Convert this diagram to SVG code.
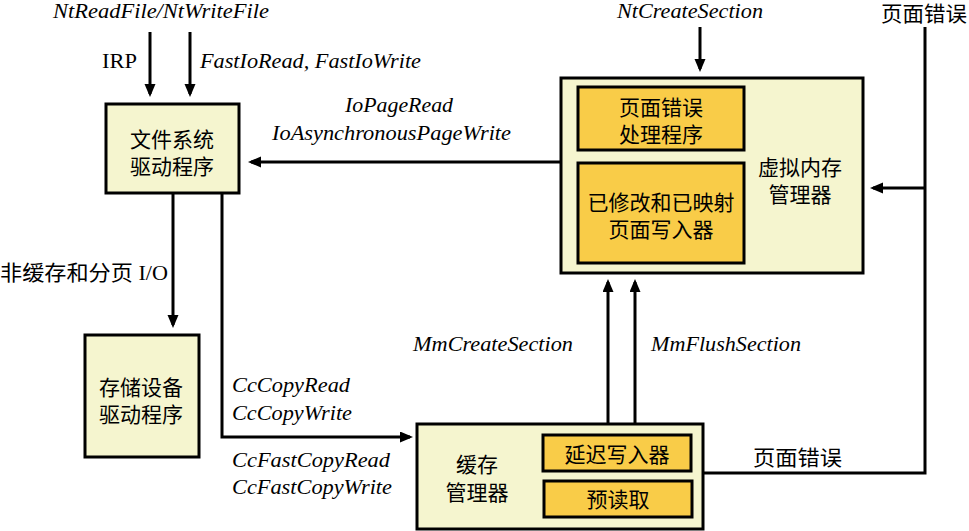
<svg xmlns="http://www.w3.org/2000/svg" width="969" height="531" viewBox="0 0 969 531">
<defs>
<marker id="arr" markerUnits="userSpaceOnUse" markerWidth="14" markerHeight="12" refX="10" refY="5.5" orient="auto">
<path d="M0,0 L13,5.5 L0,11 z" fill="#000"/>
</marker>
</defs>
<style>
.box{fill:#F5F5CF;stroke:#000;stroke-width:3}
.sub{fill:#F9CC48;stroke:#000;stroke-width:3}
.cn{font-family:"Liberation Serif","Noto Sans CJK SC",serif;font-size:21px;fill:#000}
.it{font-family:"Liberation Serif","Noto Sans CJK SC",serif;font-size:21px;font-style:italic;fill:#000}
.rm{font-family:"Liberation Serif","Noto Sans CJK SC",serif;font-size:21px;fill:#000}
.ln{fill:none;stroke:#000;stroke-width:3}
.a{marker-end:url(#arr)}
</style>
<rect width="969" height="531" fill="#fff"/>

<g id="connectors">
<line class="ln a" x1="150" y1="32" x2="150" y2="94"/>
<line class="ln a" x1="190" y1="32" x2="190" y2="94"/>
<line class="ln a" x1="561" y1="162" x2="251" y2="162"/>
<line class="ln a" x1="700" y1="27" x2="700" y2="69"/>
<polyline class="ln" points="925,27 925,473 703,473"/>
<line class="ln a" x1="925" y1="188" x2="873" y2="188"/>
<line class="ln a" x1="173" y1="193" x2="173" y2="325"/>
<polyline class="ln a" points="222,193 222,437 410,437"/>
<line class="ln a" x1="608" y1="424" x2="608" y2="282"/>
<line class="ln a" x1="635" y1="424" x2="635" y2="282"/>
</g>

<g id="labels">
<text class="it" x="53" y="18" textLength="216" lengthAdjust="spacingAndGlyphs">NtReadFile/NtWriteFile</text>
<text class="rm" x="102" y="68" textLength="35" lengthAdjust="spacingAndGlyphs">IRP</text>
<text class="it" x="200" y="68" textLength="221" lengthAdjust="spacingAndGlyphs">FastIoRead, FastIoWrite</text>
<text class="it" x="345" y="112" textLength="108" lengthAdjust="spacingAndGlyphs">IoPageRead</text>
<text class="it" x="272" y="140" textLength="239" lengthAdjust="spacingAndGlyphs">IoAsynchronousPageWrite</text>
<text class="it" x="617" y="18" textLength="146" lengthAdjust="spacingAndGlyphs">NtCreateSection</text>
<text class="cn" x="881" y="21" textLength="86" lengthAdjust="spacingAndGlyphs">页面错误</text>
<text class="cn" x="0" y="280" textLength="168" lengthAdjust="spacingAndGlyphs">非缓存和分页 I/O</text>
<text class="it" x="232" y="392" textLength="118" lengthAdjust="spacingAndGlyphs">CcCopyRead</text>
<text class="it" x="232" y="420" textLength="120" lengthAdjust="spacingAndGlyphs">CcCopyWrite</text>
<text class="it" x="232" y="467" textLength="158" lengthAdjust="spacingAndGlyphs">CcFastCopyRead</text>
<text class="it" x="232" y="494" textLength="160" lengthAdjust="spacingAndGlyphs">CcFastCopyWrite</text>
<text class="it" x="413" y="351" textLength="160" lengthAdjust="spacingAndGlyphs">MmCreateSection</text>
<text class="it" x="651" y="351" textLength="150" lengthAdjust="spacingAndGlyphs">MmFlushSection</text>
<text class="cn" x="753" y="465" textLength="89" lengthAdjust="spacingAndGlyphs">页面错误</text>
</g>

<g id="fsd">
<rect class="box" x="106" y="104" width="133" height="89"/>
<text class="cn" x="172" y="147" text-anchor="middle">文件系统</text>
<text class="cn" x="172" y="174" text-anchor="middle">驱动程序</text>
</g>

<g id="storage">
<rect class="box" x="85" y="335" width="114" height="122"/>
<text class="cn" x="141" y="395" text-anchor="middle">存储设备</text>
<text class="cn" x="141" y="422" text-anchor="middle">驱动程序</text>
</g>

<g id="vmm">
<rect class="box" x="561" y="78" width="302" height="195"/>
<text class="cn" x="800" y="175" text-anchor="middle">虚拟内存</text>
<text class="cn" x="800" y="202" text-anchor="middle">管理器</text>
</g>
<g id="pagefault-handler">
<rect class="sub" x="578" y="87" width="166" height="63"/>
<text class="cn" x="661" y="115" text-anchor="middle">页面错误</text>
<text class="cn" x="661" y="142" text-anchor="middle">处理程序</text>
</g>
<g id="mapped-writer">
<rect class="sub" x="578" y="163" width="166" height="100"/>
<text class="cn" x="661" y="210" text-anchor="middle">已修改和已映射</text>
<text class="cn" x="661" y="237" text-anchor="middle">页面写入器</text>
</g>

<g id="cache">
<rect class="box" x="417" y="424" width="286" height="105"/>
<text class="cn" x="477" y="472" text-anchor="middle">缓存</text>
<text class="cn" x="477" y="500" text-anchor="middle">管理器</text>
</g>
<g id="lazy-writer">
<rect class="sub" x="543" y="435" width="148" height="36"/>
<text class="cn" x="617" y="462" text-anchor="middle">延迟写入器</text>
</g>
<g id="read-ahead">
<rect class="sub" x="544" y="481" width="148" height="36"/>
<text class="cn" x="618" y="507" text-anchor="middle">预读取</text>
</g>
</svg>
